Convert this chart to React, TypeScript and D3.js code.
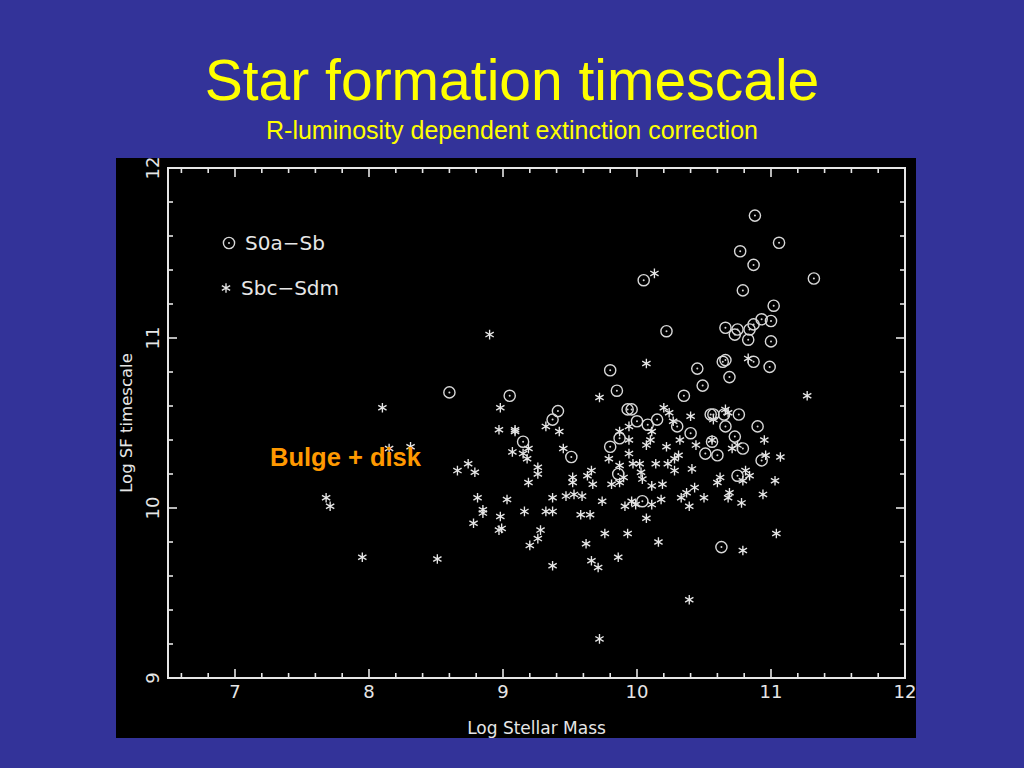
import * as d3 from 'd3'

// [log stellar mass, log SF timescale]
const s0aSb: [number, number][] = [
  [10.88, 11.72], [11.06, 11.56], [10.77, 11.51], [10.87, 11.43], [10.05, 11.34],
  [11.32, 11.35], [10.79, 11.28], [11.02, 11.19], [10.22, 11.04], [10.66, 11.06],
  [10.75, 11.05], [10.73, 11.02], [10.84, 11.05], [10.87, 11.08], [10.93, 11.11],
  [11.0, 11.1], [10.83, 10.99], [11.0, 10.98], [9.8, 10.81], [10.45, 10.82],
  [10.64, 10.86], [10.66, 10.87], [10.87, 10.86], [10.99, 10.83], [10.69, 10.77],
  [10.49, 10.72], [9.85, 10.69], [10.35, 10.66], [8.6, 10.68], [9.05, 10.66],
  [9.41, 10.57], [9.37, 10.52], [9.93, 10.58], [9.96, 10.58], [10.0, 10.51],
  [10.08, 10.49], [10.15, 10.52], [10.3, 10.48], [10.4, 10.44], [10.55, 10.55],
  [10.57, 10.55], [10.65, 10.55], [10.76, 10.55], [10.66, 10.48], [10.73, 10.42],
  [10.9, 10.48], [9.87, 10.41], [9.8, 10.36], [9.15, 10.39], [9.51, 10.3],
  [10.56, 10.39], [10.51, 10.32], [10.6, 10.31], [10.79, 10.35], [10.93, 10.28],
  [9.86, 10.2], [10.75, 10.19], [10.04, 10.04], [10.63, 9.77],
]

const sbcSdm: [number, number][] = [
  [8.9, 11.02], [8.1, 10.59], [8.15, 10.35], [8.31, 10.36], [7.68, 10.06],
  [7.71, 10.01], [7.95, 9.71], [8.51, 9.7], [8.66, 10.22], [8.74, 10.26],
  [8.79, 10.21], [8.81, 10.06], [8.85, 9.99], [8.85, 9.97], [8.78, 9.91],
  [8.98, 10.59], [8.97, 10.46], [9.09, 10.46], [9.09, 10.45], [9.03, 10.05],
  [8.98, 9.95], [8.97, 9.87], [8.99, 9.88], [9.07, 10.33], [9.15, 10.32],
  [9.19, 10.35], [9.18, 10.29], [9.26, 10.24], [9.26, 10.2], [9.19, 10.15],
  [9.16, 9.98], [9.28, 9.87], [9.26, 9.82], [9.2, 9.78], [9.32, 10.48],
  [9.42, 10.45], [9.45, 10.35], [9.37, 10.06], [9.47, 10.07], [9.53, 10.08],
  [9.59, 10.07], [9.32, 9.98], [9.37, 9.98], [9.37, 9.66], [9.52, 10.18],
  [9.52, 10.15], [9.63, 10.19], [9.66, 10.22], [9.67, 10.14], [9.58, 9.96],
  [9.65, 9.96], [9.62, 9.79], [9.66, 9.69], [9.71, 9.65], [9.72, 9.23],
  [9.72, 10.65], [9.74, 10.04], [9.76, 9.85], [9.79, 10.29], [9.81, 10.14],
  [9.87, 10.15], [9.87, 10.45], [9.94, 10.48], [9.94, 10.4], [9.94, 10.32],
  [10.07, 10.37], [9.87, 10.25], [9.97, 10.26], [10.02, 10.26], [10.14, 10.26],
  [10.23, 10.26], [9.9, 10.18], [10.03, 10.21], [10.04, 10.17], [10.11, 10.13],
  [10.19, 10.14], [9.91, 10.01], [9.96, 10.04], [9.99, 10.02], [10.11, 10.02],
  [10.18, 10.05], [10.07, 9.94], [9.93, 9.85], [10.16, 9.8], [9.86, 9.71],
  [10.07, 10.85], [10.13, 11.38], [10.2, 10.59], [10.24, 10.56], [10.27, 10.51],
  [10.4, 10.54], [10.11, 10.45], [10.1, 10.4], [10.22, 10.36], [10.32, 10.4],
  [10.44, 10.37], [10.28, 10.29], [10.31, 10.31], [10.28, 10.22], [10.41, 10.23],
  [10.37, 10.09], [10.33, 10.06], [10.43, 10.12], [10.5, 10.06], [10.39, 10.01],
  [10.39, 9.46], [10.83, 10.88], [10.66, 10.58], [10.68, 10.56], [10.57, 10.52],
  [10.56, 10.4], [10.71, 10.35], [10.75, 10.37], [10.95, 10.4], [10.96, 10.31],
  [11.07, 10.3], [10.81, 10.22], [10.84, 10.19], [10.79, 10.16], [11.03, 10.16],
  [10.62, 10.18], [10.6, 10.15], [10.69, 10.09], [10.68, 10.06], [10.78, 10.03],
  [10.94, 10.08], [11.04, 9.85], [10.79, 9.75], [11.27, 10.66],
]

const legendLabels = ['S0a\u2212Sb', 'Sbc\u2212Sdm']
const xMajor = [7, 8, 9, 10, 11, 12]
const yMajor = [9, 10, 11, 12]

const W = 1024
const H = 768
const panel = { left: 116, top: 158, right: 916, bottom: 738 }
const frame = { left: 168, top: 168, right: 905, bottom: 678 }

const ink = '#e6e6e6'
const plotFont = '"DejaVu Sans", sans-serif'
const slideFont = '"Liberation Sans", Arial, sans-serif'

function asteriskPath(r: number) {
  const c = r * Math.cos(Math.PI / 6)
  const s = r * Math.sin(Math.PI / 6)
  return `M0,${-r}L0,${r}M${-c},${-s}L${c},${s}M${-c},${s}L${c},${-s}`
}

function CircleDot({ x, y }: { x: number; y: number }) {
  return (
    <g transform={`translate(${x},${y})`}>
      <circle r={5.6} fill="none" stroke="#d8d8d8" strokeWidth={1.4} />
      <circle r={1} fill="#d8d8d8" />
    </g>
  )
}

function Star({ x, y }: { x: number; y: number }) {
  return (
    <path
      transform={`translate(${x},${y})`}
      d={asteriskPath(4.8)}
      stroke={ink}
      strokeWidth={1.35}
      fill="none"
    />
  )
}

export default function App() {
  const x = d3.scaleLinear().domain([6.5, 12]).range([frame.left, frame.right])
  const y = d3.scaleLinear().domain([9, 12]).range([frame.bottom, frame.top])

  const xMinor = d3.range(6.6, 12, 0.2).map(v => +v.toFixed(1)).filter(v => !xMajor.includes(v))
  const yMinor = d3.range(9.2, 12, 0.2).map(v => +v.toFixed(1)).filter(v => !yMajor.includes(v))
  const major = 9
  const minor = 5

  return (
    <svg
      width={W}
      height={H}
      style={{ position: 'absolute', left: 0, top: 0, display: 'block' }}
    >
      <rect width={W} height={H} fill="#333399" />

      <text x={512} y={100} textAnchor="middle" fill="#ffff00"
        fontFamily={slideFont} fontSize={57}>
        Star formation timescale
      </text>
      <text x={512} y={139} textAnchor="middle" fill="#ffff00"
        fontFamily={slideFont} fontSize={25}>
        R-luminosity dependent extinction correction
      </text>

      <rect x={panel.left} y={panel.top} width={panel.right - panel.left}
        height={panel.bottom - panel.top} fill="#000" />

      {/* frame */}
      <rect x={frame.left} y={frame.top} width={frame.right - frame.left}
        height={frame.bottom - frame.top} fill="none" stroke={ink} strokeWidth={2} />

      {/* x ticks, bottom and top */}
      {[...xMajor.map(v => [v, major]), ...xMinor.map(v => [v, minor])].map(([v, len], i) => (
        <g key={'xt' + i} stroke={ink} strokeWidth={1.6}>
          <line x1={x(v)} x2={x(v)} y1={frame.bottom} y2={frame.bottom - len} />
          <line x1={x(v)} x2={x(v)} y1={frame.top} y2={frame.top + len} />
        </g>
      ))}
      {/* y ticks, left and right */}
      {[...yMajor.map(v => [v, major]), ...yMinor.map(v => [v, minor])].map(([v, len], i) => (
        <g key={'yt' + i} stroke={ink} strokeWidth={1.6}>
          <line y1={y(v)} y2={y(v)} x1={frame.left} x2={frame.left + len} />
          <line y1={y(v)} y2={y(v)} x1={frame.right} x2={frame.right - len} />
        </g>
      ))}

      {xMajor.map(v => (
        <text key={'xl' + v} x={x(v)} y={698} textAnchor="middle" fill={ink}
          fontFamily={plotFont} fontSize={18}>
          {v}
        </text>
      ))}
      {yMajor.map(v => (
        <text key={'yl' + v} transform={`translate(159,${y(v)}) rotate(-90)`}
          textAnchor="middle" fill={ink} fontFamily={plotFont} fontSize={18}>
          {v}
        </text>
      ))}

      <text x={(frame.left + frame.right) / 2} y={734} textAnchor="middle" fill={ink}
        fontFamily={plotFont} fontSize={17}>
        Log Stellar Mass
      </text>
      <text transform={`translate(132,${(frame.top + frame.bottom) / 2}) rotate(-90)`}
        textAnchor="middle" fill={ink} fontFamily={plotFont} fontSize={16.5}>
        Log SF timescale
      </text>

      {/* legend */}
      <CircleDot x={229} y={243} />
      <text x={245} y={250} fill={ink} fontFamily={plotFont} fontSize={20}>{legendLabels[0]}</text>
      <Star x={226} y={288} />
      <text x={241} y={295} fill={ink} fontFamily={plotFont} fontSize={20}>{legendLabels[1]}</text>

      {sbcSdm.map(([m, t], i) => (
        <Star key={'s' + i} x={x(m)} y={y(t)} />
      ))}
      {s0aSb.map(([m, t], i) => (
        <CircleDot key={'c' + i} x={x(m)} y={y(t)} />
      ))}

      <text x={270} y={466} fill="#ff9900" fontWeight="bold"
        fontFamily={slideFont} fontSize={25.5}>
        Bulge + disk
      </text>
    </svg>
  )
}
